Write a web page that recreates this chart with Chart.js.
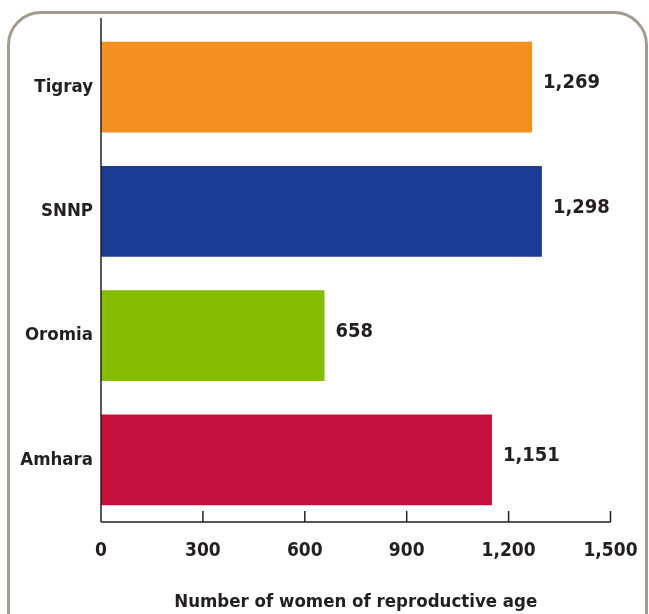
<!DOCTYPE html>
<html>
<head>
<meta charset="utf-8">
<script src="https://cdn.jsdelivr.net/npm/chart.js@4"></script>
<style>
  html, body { margin: 0; padding: 0; background: #fff; }
  #wrap { position: relative; width: 649px; height: 614px; overflow: hidden; }
  #frame {
    position: absolute; left: 7px; top: 11px; width: 641px; height: 640px;
    border: 3px solid #a39b91; border-radius: 34px; box-sizing: border-box;
  }
  canvas { position: absolute; left: 0; top: 0; }
</style>
</head>
<body>
<div id="wrap">
  <div id="frame"></div>
  <canvas id="myChart" width="649" height="614"></canvas>
</div>
<script>
var regions = ['Tigray', 'SNNP', 'Oromia', 'Amhara'];
var women = [1269, 1298, 658, 1151];
var barColors = ['#f5901f', '#1b3c94', '#84bd00', '#c50f3c'];
var xTicks = [0, 300, 600, 900, 1200, 1500];

var fontFam = '"Liberation Sans Narrow", "DejaVu Sans Condensed", "Roboto Condensed", sans-serif';
var textColor = '#231f20';

// value labels at the end of each bar
var valueLabels = {
    id: 'valueLabels',
    afterDatasetsDraw: function(chart) {
        var ctx = chart.ctx;
        var meta = chart.getDatasetMeta(0);
        ctx.save();
        ctx.font = 'bold 20px ' + fontFam;
        ctx.fillStyle = textColor;
        ctx.textAlign = 'left';
        ctx.textBaseline = 'middle';
        meta.data.forEach(function(bar, i) {
            ctx.fillText(women[i].toLocaleString('en-US'), bar.x + 11, bar.y - 4);
        });
        ctx.restore();
    }
};

// tick marks pointing up from the x axis, plus axis lines
var axisMarks = {
    id: 'axisMarks',
    afterDraw: function(chart) {
        var ctx = chart.ctx;
        var x = chart.scales.x;
        var area = chart.chartArea;
        ctx.save();
        ctx.strokeStyle = '#231f20';
        ctx.lineWidth = 1.5;
        ctx.beginPath();
        ctx.moveTo(area.left, area.bottom);
        ctx.lineTo(x.getPixelForValue(1500), area.bottom);
        ctx.moveTo(area.left, area.bottom);
        ctx.lineTo(area.left, area.top - 7);
        xTicks.forEach(function(v) {
            var px = x.getPixelForValue(v);
            ctx.moveTo(px, area.bottom);
            ctx.lineTo(px, area.bottom - 11);
        });
        ctx.stroke();
        ctx.restore();
    }
};

var ctx = document.getElementById('myChart').getContext('2d');
var myChart = new Chart(ctx, {
    type: 'bar',
    data: {
        labels: regions,
        datasets: [{
            label: 'Number of women of reproductive age',
            data: women,
            backgroundColor: barColors,
            borderWidth: 0,
            categoryPercentage: 0.73,
            barPercentage: 1.0
        }]
    },
    options: {
        indexAxis: 'y',
        responsive: false,
        animation: false,
        layout: { padding: { left: 0, right: 38.5, top: 25, bottom: 1 } },
        plugins: {
            legend: { display: false },
            tooltip: { enabled: false }
        },
        scales: {
            x: {
                min: 0,
                max: 1500,
                afterBuildTicks: function(scale) {
                    scale.ticks = xTicks.map(function(v) { return { value: v }; });
                },
                afterFit: function(scale) {
                    scale.height = 91;
                    scale.paddingLeft = 0;
                    scale.paddingRight = 0;
                },
                grid: { display: false, drawTicks: false },
                border: { display: false },
                ticks: {
                    padding: 18,
                    color: textColor,
                    font: { family: fontFam, size: 19, weight: 'bold' },
                    maxRotation: 0,
                    callback: function(v) { return Number(v).toLocaleString('en-US'); }
                },
                title: {
                    display: true,
                    text: 'Number of women of reproductive age',
                    color: textColor,
                    font: { family: fontFam, size: 18.5, weight: 'bold' },
                    padding: { top: 10, bottom: 0 }
                }
            },
            y: {
                afterFit: function(scale) {
                    scale.width = 101;
                    scale.paddingTop = 0;
                    scale.paddingBottom = 0;
                },
                grid: { display: false, drawTicks: false },
                border: { display: false },
                ticks: {
                    padding: 8,
                    color: textColor,
                    font: { family: fontFam, size: 18.5, weight: 'bold' }
                }
            }
        }
    },
    plugins: [valueLabels, axisMarks]
});
</script>
</body>
</html>
